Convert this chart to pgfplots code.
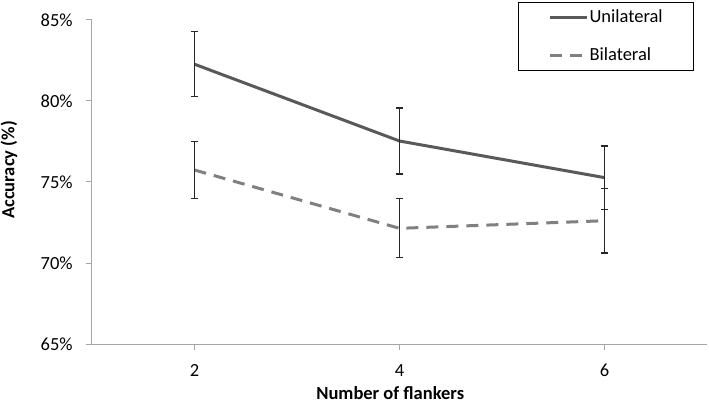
\documentclass[border=0pt]{standalone}
\usepackage{fontspec}
\setmainfont{Carlito}
\usepackage{pgfplots}
\pgfplotsset{compat=1.18}
\definecolor{uni}{HTML}{595959}
\definecolor{bil}{HTML}{808080}
\definecolor{axgray}{HTML}{A6A6A6}

\begin{document}
\fontsize{18.5bp}{22bp}\selectfont
\begin{tikzpicture}
\begin{axis}[
    scale only axis,
    width=615bp, height=324bp,
    xmin=1, xmax=7, ymin=65, ymax=85,
    xtick={2,4,6}, ytick={65,70,75,80,85},
    yticklabel={\pgfmathprintnumber{\tick}\%},
    /pgf/number format/assume math mode=true,
    axis x line*=bottom, axis y line*=left,
    axis line style={axgray, line width=1bp, -},
    tick align=outside,
    major tick length=6bp,
    tick style={axgray, line width=1bp},
    ticklabel style={font=\fontsize{18.5bp}{22bp}\selectfont, text=black},
    xticklabel style={yshift=-8bp},
    yticklabel style={xshift=-7bp},
    xlabel={\bfseries Number of flankers},
    ylabel={\bfseries Accuracy (\%)},
    xlabel style={at={(axis description cs:0.485,-0.151)}, anchor=center},
    ylabel style={at={(axis description cs:-0.135,0.537)}, anchor=center},
    label style={font=\fontsize{18.5bp}{22bp}\selectfont},
    legend style={at={(axis description cs:0.979,1.056)}, anchor=north east,
        draw=black, line width=0.8bp, inner xsep=29.5bp, inner ysep=5bp,
        nodes={inner xsep=1.5bp},
        font=\fontsize{18.5bp}{22bp}\selectfont, row sep=19bp},
    legend cell align=left,
    legend image code/.code={\draw[#1] (0bp,0bp) -- (37bp,0bp);},
    error bars/error bar style={line width=1.3bp, black!85, solid},
    error bars/error mark options={rotate=90, line width=1.3bp, black!85, mark size=3.5bp, solid},
]
\addplot[uni, line width=3bp, error bars/.cd, y dir=both, y explicit]
  coordinates {(2,82.27) +- (0,2.00) (4,77.53) +- (0,2.03) (6,75.27) +- (0,1.95)};
\addplot[bil, line width=3bp, dash pattern=on 12bp off 8bp, error bars/.cd, y dir=both, y explicit]
  coordinates {(2,75.74) +- (0,1.77) (4,72.14) +- (0,1.82) (6,72.61) +- (0,2.00)};
\legend{Unilateral, Bilateral}
\end{axis}
\pgfresetboundingbox
\useasboundingbox (current axis.south west) ++(-92bp,-61bp) rectangle ++(709bp,405bp);
\end{tikzpicture}
\end{document}
